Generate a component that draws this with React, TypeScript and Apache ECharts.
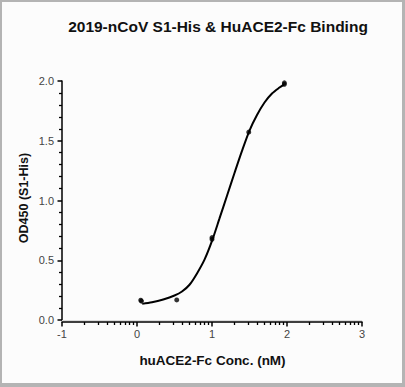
import React, { useEffect, useRef } from "react";
import * as echarts from "echarts";

const titleText = "2019-nCoV S1-His & HuACE2-Fc Binding";
const xName = "huACE2-Fc Conc. (nM)";
const yName = "OD450 (S1-His)";

// measured points (log10 conc, OD450)
const pointX = [0.05, 0.06, 0.53, 1.0, 1.0, 1.49, 1.965, 1.965];
const pointY = [0.165, 0.158, 0.168, 0.69, 0.675, 1.572, 1.985, 1.972];

// fitted curve
const curveX = [0.07, 0.2, 0.35, 0.5, 0.6, 0.7, 0.8, 0.9, 1.0, 1.1, 1.2, 1.3, 1.4, 1.5, 1.6, 1.7, 1.8, 1.9, 1.96];
const curveY = [0.135, 0.148, 0.172, 0.205, 0.238, 0.295, 0.39, 0.505, 0.662, 0.85, 1.04, 1.23, 1.415, 1.585, 1.715, 1.82, 1.895, 1.945, 1.97];

const xTickDecades = [-1, 0, 1, 2];
const minorOffsets = [0.301, 0.477, 0.602, 0.699, 0.778, 0.845, 0.903, 0.954];

export default function App() {
  const ref = useRef<HTMLDivElement>(null);
  useEffect(() => {
    if (!ref.current) return;
    const chart = echarts.init(ref.current, undefined, { renderer: "svg" });
    const minorTickValues: number[] = [];
    xTickDecades.forEach((d) => minorOffsets.forEach((o) => minorTickValues.push(d + o)));
    const font = "Arial, 'Liberation Sans', sans-serif";
    const W = 405, H = 387;
    const border = "#b4b4b4";
    chart.setOption({
      animation: false,
      backgroundColor: "#fcfcfc",
      grid: { left: 62, right: 43, top: 81, bottom: 67, containLabel: false },
      xAxis: [
        {
          type: "value",
          min: -1,
          max: 3,
          interval: 1,
          offset: 2,
          position: "bottom",
          axisLine: { show: true, onZero: false, lineStyle: { color: "#000", width: 1.5 } },
          axisTick: { show: true, length: 4.5, lineStyle: { color: "#000", width: 1.5 } },
          axisLabel: { color: "#444", fontSize: 11, fontFamily: font, margin: 6 },
          splitLine: { show: false },
        },
        {
          type: "value",
          min: -1,
          max: 3,
          interval: 1,
          offset: 2,
          position: "bottom",
          axisLine: { show: false, onZero: false },
          axisTick: {
            show: true,
            length: 3,
            customValues: minorTickValues,
            lineStyle: { color: "#000", width: 1.3 },
          },
          axisLabel: { show: false },
          splitLine: { show: false },
        },
      ],
      yAxis: {
        type: "value",
        min: 0,
        max: 2,
        interval: 0.5,
        axisLine: { show: true, onZero: false, lineStyle: { color: "#000", width: 1.5 } },
        axisTick: { show: true, length: 4.5, lineStyle: { color: "#000", width: 1.5 } },
        minorTick: { show: true, splitNumber: 5, length: 3, lineStyle: { color: "#000", width: 1.3 } },
        axisLabel: {
          color: "#444",
          fontSize: 11,
          fontFamily: font,
          margin: 8,
          formatter: (v: number) => v.toFixed(1),
        },
        splitLine: { show: false },
      },
      series: [
        {
          type: "line",
          xAxisIndex: 0,
          data: curveX.map((x, i) => [x, curveY[i]]),
          smooth: 0.3,
          showSymbol: false,
          lineStyle: { color: "#000", width: 2 },
          silent: true,
          z: 3,
          markLine: {
            silent: true,
            symbol: "none",
            label: { show: false },
            lineStyle: { color: "#dcdcdc", width: 1, type: "solid" },
            data: [{ yAxis: 0 }],
          },
        },
        {
          type: "scatter",
          xAxisIndex: 0,
          data: pointX.map((x, i) => [x, pointY[i]]),
          symbol: "circle",
          symbolSize: 5,
          itemStyle: { color: "#000" },
          silent: true,
          z: 4,
        },
      ],
      graphic: [
        {
          type: "text",
          x: 218,
          y: 26.5,
          style: { text: titleText, font: `bold 15.5px ${font}`, fill: "#111", align: "center", verticalAlign: "middle" },
        },
        {
          type: "text",
          x: 212.5,
          y: 360.5,
          style: { text: xName, font: `bold 13.5px ${font}`, fill: "#111", align: "center", verticalAlign: "middle" },
        },
        {
          type: "text",
          x: 24,
          y: 198,
          rotation: Math.PI / 2,
          style: { text: yName, font: `bold 12.5px ${font}`, fill: "#111", align: "center", verticalAlign: "middle" },
        },
        { type: "rect", shape: { x: 0, y: 0, width: W, height: 2 }, style: { fill: border } },
        { type: "rect", shape: { x: 0, y: 0, width: 2, height: H }, style: { fill: border } },
        { type: "rect", shape: { x: W - 3, y: 0, width: 3, height: H }, style: { fill: border } },
        { type: "rect", shape: { x: 0, y: H - 4, width: W, height: 4 }, style: { fill: border } },
      ],
    });
    return () => chart.dispose();
  }, []);
  return <div ref={ref} style={{ position: "fixed", left: 0, top: 0, width: 405, height: 387 }} />;
}
